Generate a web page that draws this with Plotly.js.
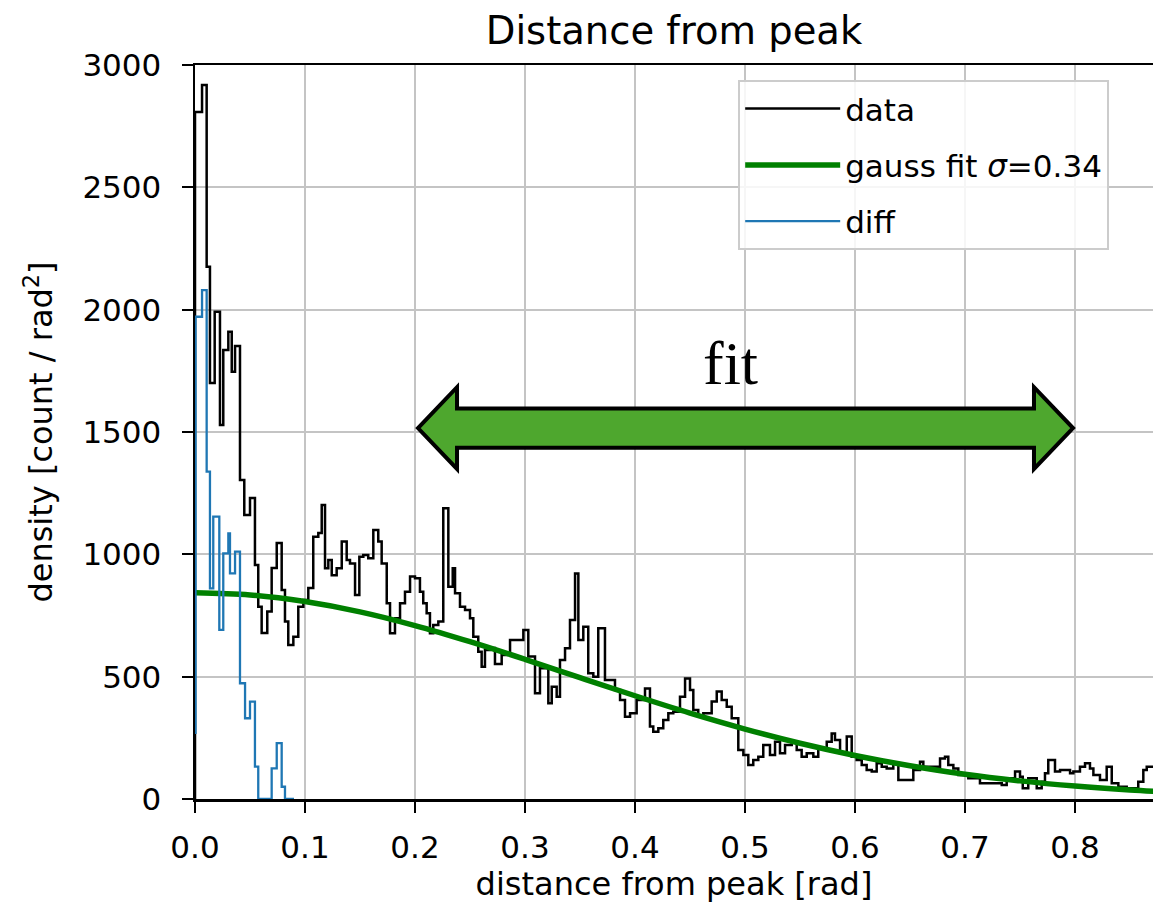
<!DOCTYPE html>
<html>
<head>
<meta charset="utf-8">
<script src="https://cdn.plot.ly/plotly-3.0.1.min.js"></script>
<style>
  html, body { margin: 0; padding: 0; background: #ffffff; }
  #chart { width: 1153px; height: 903px; }
</style>
</head>
<body>
<div id="chart"></div>
<script>
// ---------- data ----------
// histogram of the data: left edge of each step (rad) and its density
const dataLeftEdge = [
  0, 0.0064, 0.0106, 0.0136, 0.0179, 0.0227, 0.0257, 0.0303, 0.0334, 0.0364,
  0.0409, 0.0448, 0.05, 0.0545, 0.0575, 0.0606, 0.0657, 0.0697, 0.0743, 0.0788,
  0.0818, 0.0848, 0.0894, 0.0939, 0.0985, 0.103, 0.1075, 0.1121, 0.1152, 0.1182,
  0.1212, 0.1243, 0.1288, 0.1334, 0.1379, 0.1409, 0.1455, 0.1494, 0.153, 0.1575,
  0.1621, 0.1666, 0.1697, 0.1743, 0.1773, 0.1818, 0.1864, 0.1909, 0.1955, 0.2,
  0.2045, 0.2075, 0.2106, 0.2136, 0.2166, 0.2212, 0.2257, 0.2303, 0.2343, 0.2364,
  0.2409, 0.2455, 0.25, 0.253, 0.2575, 0.2606, 0.2636, 0.2682, 0.2727, 0.2788,
  0.2864, 0.2985, 0.303, 0.3091, 0.3136, 0.3212, 0.3243, 0.3288, 0.3318, 0.3364,
  0.3409, 0.3455, 0.3485, 0.353, 0.3575, 0.3621, 0.3666, 0.3727, 0.3818, 0.3864,
  0.3909, 0.3955, 0.4015, 0.4091, 0.4136, 0.4166, 0.4212, 0.4257, 0.4303, 0.4348,
  0.4409, 0.4455, 0.45, 0.453, 0.4575, 0.4621, 0.4697, 0.4743, 0.4788, 0.4834,
  0.4879, 0.4939, 0.4985, 0.503, 0.5075, 0.5121, 0.5166, 0.5227, 0.5273, 0.5318,
  0.5364, 0.5425, 0.547, 0.5515, 0.5561, 0.5621, 0.5666, 0.5743, 0.5788, 0.5818,
  0.5864, 0.5925, 0.597, 0.6015, 0.6061, 0.6106, 0.6152, 0.6197, 0.6243, 0.6288,
  0.6348, 0.6394, 0.653, 0.6591, 0.6621, 0.6773, 0.6818, 0.6848, 0.6894, 0.6939,
  0.703, 0.7136, 0.7334, 0.7379, 0.7455, 0.75, 0.7525, 0.7575, 0.7652, 0.7697,
  0.7727, 0.7757, 0.7818, 0.7864, 0.7955, 0.7985, 0.8045, 0.8091, 0.8136, 0.8167,
  0.8227, 0.8288, 0.8334, 0.8394, 0.847, 0.8575, 0.8621, 0.8652
];
const dataDensity = [
  2808, 2918, 2175, 1700, 1991, 1529, 1835, 1910, 1746, 1851,
  1304, 1161, 1230, 956, 786, 678, 766, 944, 1046, 854,
  725, 629, 663, 786, 813, 862, 1072, 1087, 1202, 943,
  977, 915, 943, 1052, 977, 963, 834, 990, 997, 984,
  1099, 1052, 963, 800, 677, 739, 800, 847, 909, 902,
  847, 800, 759, 677, 711, 725, 1188, 868, 943, 841,
  786, 772, 739, 663, 602, 541, 609, 617, 552, 589,
  650, 691, 582, 432, 534, 391, 459, 418, 568, 616,
  732, 922, 650, 704, 514, 500, 698, 486, 445, 405,
  336, 350, 405, 452, 296, 275, 289, 323, 350, 357,
  418, 493, 445, 364, 336, 350, 398, 439, 405, 377,
  330, 200, 180, 139, 159, 173, 221, 180, 234, 187,
  221, 234, 200, 173, 187, 173, 207, 234, 268, 241,
  187, 255, 173, 159, 139, 119, 112, 146, 132, 125,
  146, 78, 119, 152, 132, 166, 173, 139, 125, 98,
  85, 64, 57, 85, 112, 91, 44, 85, 44, 71,
  105, 159, 112, 119, 105, 112, 132, 146, 125, 98,
  78, 132, 64, 50, 44, 71, 119, 132
];
const dataRightEdge = 0.875;

// difference (data - fit) near the peak
const diffLeftEdge = [0, 0.0005, 0.0064, 0.0106, 0.0136, 0.0166, 0.0221, 0.0257, 0.0303, 0.0318,
                      0.0364, 0.0409, 0.0455, 0.05, 0.0545, 0.0575, 0.0697, 0.0743, 0.0788, 0.0818];
const diffDensity  = [270, 1971, 2080, 1338, 861, 1154, 691, 1004, 1086, 922,
                      1011, 473, 330, 398, 132, 0, 125, 228, 50, 0];
const diffRightEdge = 0.09;

// gaussian fit curve
const fitX = [0, 0.05, 0.1, 0.15, 0.2, 0.25, 0.3, 0.35, 0.4, 0.45,
              0.5, 0.55, 0.6, 0.65, 0.7, 0.75, 0.8, 0.85, 0.9];
const fitY = [843, 834, 807, 765, 709, 643, 571, 496, 422, 351,
              286, 228, 178, 136, 101, 74, 53, 37, 25];

const seriesNames = ['data', 'gauss fit <i>σ</i>=0.34', 'diff'];
const xTickVals = [0, 0.1, 0.2, 0.3, 0.4, 0.5, 0.6, 0.7, 0.8];
const xTickText = ['0.0', '0.1', '0.2', '0.3', '0.4', '0.5', '0.6', '0.7', '0.8'];
const yTickVals = [0, 500, 1000, 1500, 2000, 2500, 3000];
const yTickText = ['0', '500', '1000', '1500', '2000', '2500', '3000'];

// annotated fit range (double arrow) and its label
const fitRange = [0.2027, 0.7982];
const fitArrowLevel = 1516;
const fitLabel = 'fit';
const fitLabelPos = [0.487, 1780];

// ---------- build ----------
function stepXY(left, vals, rightEnd, startY) {
  const xs = [], ys = [];
  if (startY !== null) { xs.push(left[0]); ys.push(startY); }
  for (let i = 0; i < left.length; i++) { xs.push(left[i]); ys.push(vals[i]); }
  xs.push(rightEnd); ys.push(vals[vals.length - 1]);
  return { xs, ys };
}
const dStep = stepXY(dataLeftEdge, dataDensity, dataRightEdge, 0);
const fStep = stepXY(diffLeftEdge, diffDensity, diffRightEdge, null);

const traces = [
  { x: dStep.xs, y: dStep.ys, type: 'scatter', mode: 'lines', name: seriesNames[0],
    line: { color: '#000000', width: 2.5, shape: 'hv' }, legendgroup: 'a' },
  { x: fitX, y: fitY, type: 'scatter', mode: 'lines', name: seriesNames[1],
    line: { color: '#008000', width: 5.5, shape: 'spline', smoothing: 1 }, legendgroup: 'b' },
  { x: fStep.xs, y: fStep.ys, type: 'scatter', mode: 'lines', name: seriesNames[2],
    line: { color: '#1f77b4', width: 2.3, shape: 'hv' }, legendgroup: 'c' }
];

// double arrow geometry (style sizes)
const headLen = 0.0355, shaftHalf = 80, headHalf = 167;
const x0 = fitRange[0], x1 = fitRange[1], yc = fitArrowLevel;
const arrowPath =
  'M' + x0 + ',' + yc +
  ' L' + (x0 + headLen) + ',' + (yc + headHalf) +
  ' L' + (x0 + headLen) + ',' + (yc + shaftHalf) +
  ' L' + (x1 - headLen) + ',' + (yc + shaftHalf) +
  ' L' + (x1 - headLen) + ',' + (yc + headHalf) +
  ' L' + x1 + ',' + yc +
  ' L' + (x1 - headLen) + ',' + (yc - headHalf) +
  ' L' + (x1 - headLen) + ',' + (yc - shaftHalf) +
  ' L' + (x0 + headLen) + ',' + (yc - shaftHalf) +
  ' L' + (x0 + headLen) + ',' + (yc - headHalf) + ' Z';

const font = 'DejaVu Sans, Verdana, sans-serif';
const layout = {
  width: 1153, height: 903,
  margin: { l: 195, r: 0, t: 65, b: 104, pad: 0 },
  paper_bgcolor: '#ffffff', plot_bgcolor: '#ffffff',
  font: { family: font, color: '#000000', size: 31 },
  title: { text: 'Distance from peak', font: { family: font, size: 38.5, color: '#000000' },
           x: 0.5, xref: 'paper', xanchor: 'center', y: 0.966, yref: 'container', yanchor: 'middle' },
  xaxis: {
    range: [0, 0.8709], tickvals: xTickVals, ticktext: xTickText,
    showgrid: true, gridcolor: '#c4c4c4', gridwidth: 2, zeroline: false,
    showline: true, linecolor: '#000000', linewidth: 2.5, mirror: true,
    ticks: 'outside', ticklen: 11, tickwidth: 2, tickcolor: '#000000',
    tickfont: { family: font, size: 31, color: '#000000' }, ticklabelstandoff: 8,
    title: { text: 'distance from peak [rad]', font: { family: font, size: 32, color: '#000000' }, standoff: 12 },
    automargin: false
  },
  yaxis: {
    range: [0, 3000], tickvals: yTickVals, ticktext: yTickText,
    showgrid: true, gridcolor: '#c4c4c4', gridwidth: 2, zeroline: false,
    showline: true, linecolor: '#000000', linewidth: 2.5,
    ticks: 'outside', ticklen: 11, tickwidth: 2, tickcolor: '#000000',
    tickfont: { family: font, size: 31, color: '#000000' }, ticklabelstandoff: 14,
    title: { text: 'density [count / rad<sup>2</sup>]', font: { family: font, size: 32, color: '#000000' }, standoff: 20 },
    automargin: false
  },
  showlegend: true,
  legend: {
    x: 0.567, y: 0.9796, xanchor: 'left', yanchor: 'top',
    bgcolor: 'rgba(255,255,255,0.85)', bordercolor: '#cccccc', borderwidth: 2,
    font: { family: font, size: 31, color: '#000000' },
    tracegroupgap: 13, itemwidth: 95, traceorder: 'grouped',
    entrywidth: 395, entrywidthmode: 'pixels'
  },
  shapes: [
    { type: 'path', xref: 'x', yref: 'y', path: arrowPath, fillcolor: '#4ea72e',
      line: { color: '#000000', width: 4 }, layer: 'above' }
  ],
  annotations: [
    { x: fitLabelPos[0], y: fitLabelPos[1], xref: 'x', yref: 'y', text: fitLabel,
      showarrow: false, xanchor: 'center', yanchor: 'middle',
      font: { family: 'Liberation Serif, Times New Roman, serif', size: 62, color: '#000000' } }
  ]
};

Plotly.newPlot('chart', traces, layout, { displayModeBar: false, staticPlot: true });
</script>
</body>
</html>
